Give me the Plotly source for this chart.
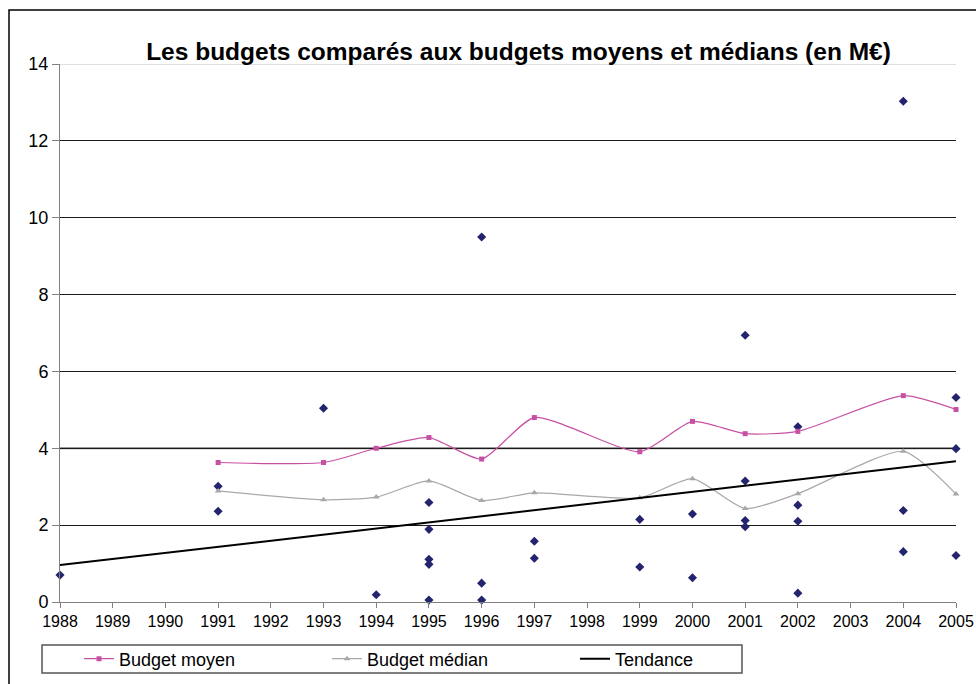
import plotly.graph_objects as go

# ---- data ----
years = list(range(1988, 2006))
tick_labels = [str(y) for y in years]

budget_x = [1988, 1991, 1991, 1993, 1994, 1995, 1995, 1995, 1995, 1995,
            1996, 1996, 1996, 1997, 1997, 1999, 1999, 2000, 2000,
            2001, 2001, 2001, 2001, 2002, 2002, 2002, 2002,
            2004, 2004, 2004, 2005, 2005, 2005]
budget_y = [0.70, 3.01, 2.36, 5.04, 0.19, 2.59, 1.89, 1.11, 0.98, 0.05,
            0.49, 0.05, 9.50, 1.58, 1.14, 2.15, 0.91, 2.29, 0.63,
            6.94, 3.15, 2.12, 1.96, 4.56, 2.52, 2.10, 0.23,
            13.03, 2.38, 1.31, 5.32, 3.99, 1.21]

stat_years = [1991, 1993, 1994, 1995, 1996, 1997, 1999, 2000, 2001, 2002, 2004, 2005]
moyen = [3.63, 3.63, 4.00, 4.28, 3.72, 4.80, 3.91, 4.70, 4.38, 4.44, 5.37, 5.01]
median = [2.89, 2.66, 2.73, 3.15, 2.64, 2.84, 2.71, 3.21, 2.43, 2.82, 3.92, 2.81]

trend_x = [1988, 2005]
trend_y = [0.96, 3.66]

y_ticks = [0, 2, 4, 6, 8, 10, 12, 14]

title = "Les budgets comparés aux budgets moyens et médians (en M€)"

FONT = "Liberation Sans, Arial, sans-serif"

fig = go.Figure()

fig.add_trace(go.Scatter(
    x=budget_x, y=budget_y, mode="markers", showlegend=False,
    marker=dict(symbol="diamond", size=7, color="#24246e"),
    cliponaxis=False,
))
fig.add_trace(go.Scatter(
    x=stat_years, y=moyen, mode="lines+markers", name="Budget moyen",
    line=dict(color="#c850a4", width=1.2, shape="spline", smoothing=0.6),
    marker=dict(symbol="square", size=5, color="#c850a4"),
    cliponaxis=False,
))
fig.add_trace(go.Scatter(
    x=stat_years, y=median, mode="lines+markers", name="Budget médian",
    line=dict(color="#a8a8a8", width=1.2, shape="spline", smoothing=0.6),
    marker=dict(symbol="triangle-up", size=6, color="#a8a8a8"),
    cliponaxis=False,
))
fig.add_trace(go.Scatter(
    x=trend_x, y=trend_y, mode="lines", name="Tendance",
    line=dict(color="#000000", width=2),
    cliponaxis=False,
))

W, H = 976, 684
ml, mr, mt, mb = 60, 20, 64, 82
pw, ph = W - ml - mr, H - mt - mb

def px_x(x):
    return (x - ml) / pw

def px_y(y):
    return (H - mb - y) / ph

fig.update_layout(
    width=W, height=H,
    margin=dict(l=ml, r=mr, t=mt, b=mb, pad=0, autoexpand=False),
    paper_bgcolor="white", plot_bgcolor="white",
    font=dict(family=FONT, color="#000000"),
    title=dict(text="<b>" + title + "</b>", x=518.5 / W, xanchor="center",
               y=1 - 51 / H, yanchor="middle", xref="container", yref="container",
               font=dict(family=FONT, size=24.5, color="#000000")),
    xaxis=dict(range=[1988, 2005], tickmode="array", tickvals=years, ticktext=tick_labels,
               showgrid=False, zeroline=False, showline=True, linecolor="#808080", linewidth=1,
               ticks="outside", ticklen=5, tickcolor="#808080", automargin=False,
               tickfont=dict(family=FONT, size=16, color="#000000"), tickangle=0),
    yaxis=dict(range=[0, 14], tickmode="array", tickvals=y_ticks,
               showgrid=True, gridcolor="#1a1a1a", gridwidth=1, zeroline=False,
               showline=True, linecolor="#808080", linewidth=1, automargin=False,
               ticks="outside", ticklen=7, tickcolor="#808080",
               tickfont=dict(family=FONT, size=18, color="#000000")),
    legend=dict(orientation="h", x=px_x(79), xanchor="left", y=px_y(659), yanchor="middle",
                bgcolor="rgba(0,0,0,0)", borderwidth=0,
                entrywidth=203, entrywidthmode="pixels",
                font=dict(family=FONT, size=18, color="#000000")),
    shapes=[
        dict(type="line", xref="paper", yref="y", x0=0, x1=1, y0=y_ticks[-1], y1=y_ticks[-1],
             line=dict(color="#d4d4d4", width=1.5), layer="between"),
        dict(type="line", xref="paper", yref="y", x0=0, x1=1, y0=y_ticks[2], y1=y_ticks[2],
             line=dict(color="#7a7a7a", width=2), layer="between"),
        dict(type="rect", xref="paper", yref="paper",
             x0=px_x(42), x1=px_x(742), y0=px_y(645), y1=px_y(673),
             line=dict(color="#555555", width=1.5), fillcolor="rgba(0,0,0,0)", layer="below"),
        dict(type="rect", xref="paper", yref="paper",
             x0=px_x(9), x1=px_x(990), y0=px_y(10), y1=px_y(700),
             line=dict(color="#000000", width=1.5), fillcolor="rgba(0,0,0,0)", layer="below"),
    ],
)

fig.write_html("out.html")
